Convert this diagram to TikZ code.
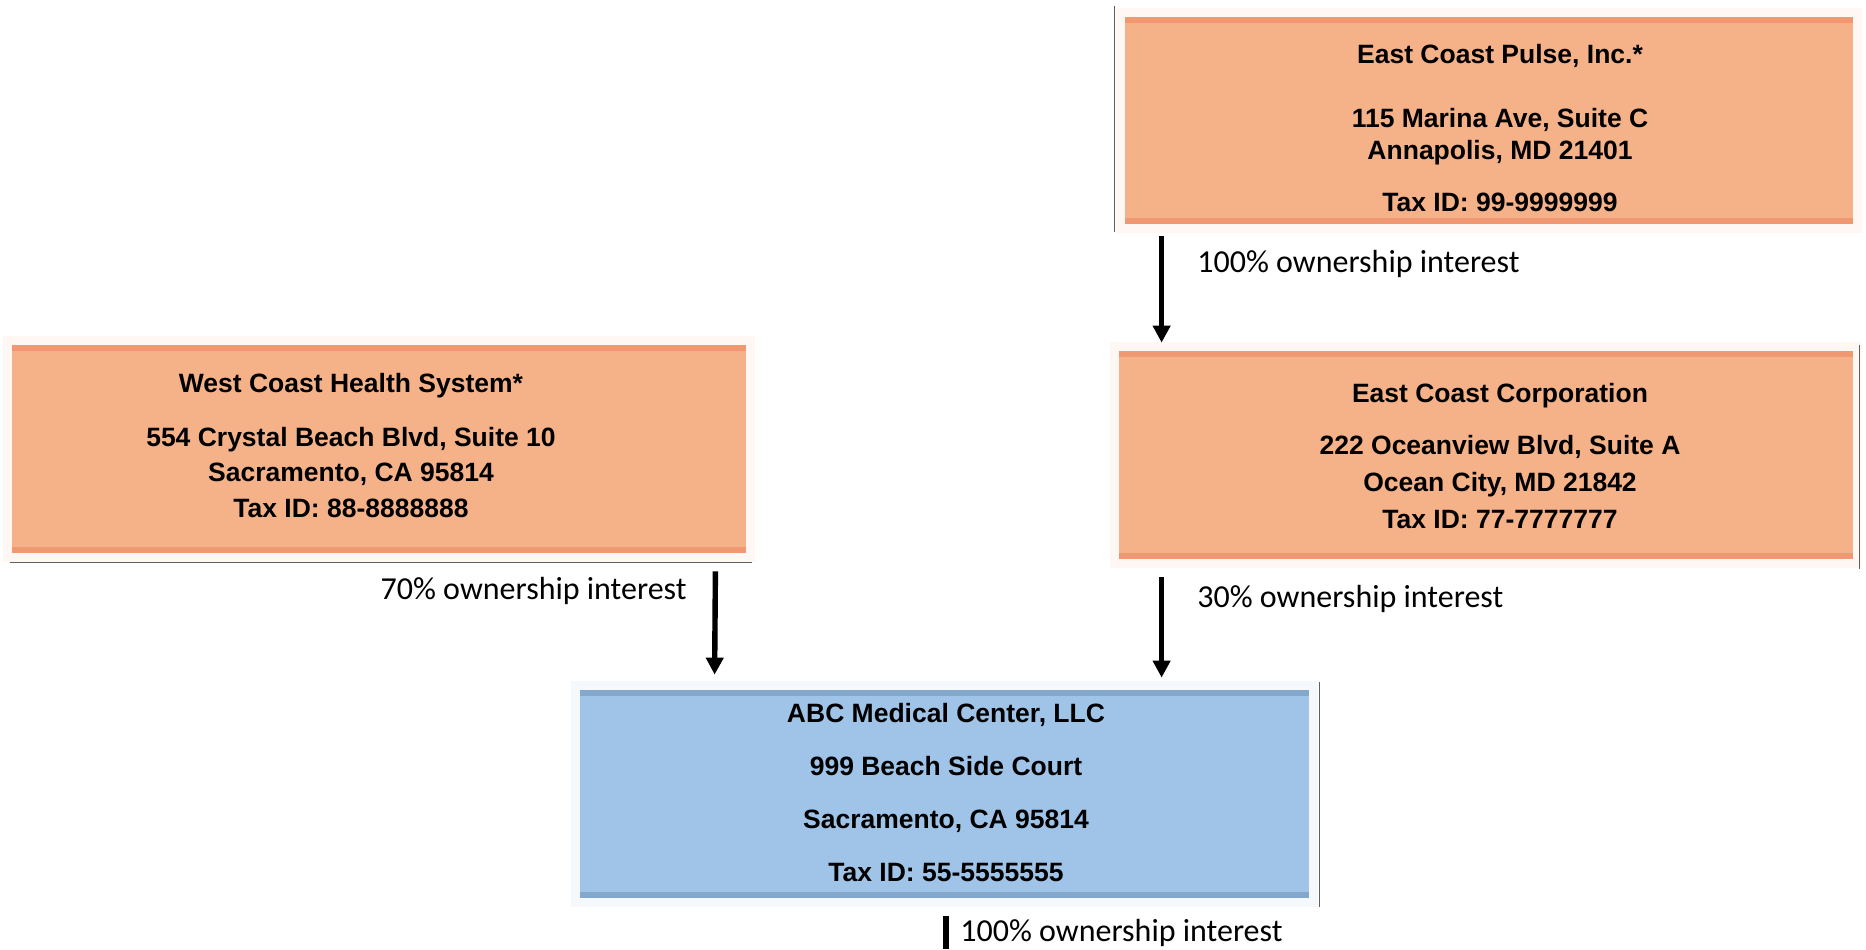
\documentclass[tikz,border=0pt]{standalone}
\usepackage{fontspec}
\setmainfont{Liberation Sans}
\newfontfamily\lblfont{Carlito}
\usetikzlibrary{arrows.meta,calc}
\definecolor{orEdge}{RGB}{240,152,114}
\definecolor{orMid}{RGB}{245,178,136}
\definecolor{blEdge}{RGB}{132,168,204}
\definecolor{blMid}{RGB}{160,196,232}
\definecolor{rulegrey}{RGB}{95,95,95}
\begin{document}
\begin{tikzpicture}[x=0.5pt,y=-0.5pt,
  orbox/.style={rectangle, inner sep=0pt, draw=none, fill=orMid,
    preaction={draw=orMid, opacity=0.10, line width=9pt},
    path picture={
      \fill[orEdge] (path picture bounding box.north west) rectangle ([yshift=-3pt]path picture bounding box.north east);
      \fill[orEdge] (path picture bounding box.south west) rectangle ([yshift=3pt]path picture bounding box.south east);}},
  blbox/.style={rectangle, inner sep=0pt, draw=none, fill=blMid,
    preaction={draw=blMid, opacity=0.10, line width=9pt},
    path picture={
      \fill[blEdge] (path picture bounding box.north west) rectangle ([yshift=-3pt]path picture bounding box.north east);
      \fill[blEdge] (path picture bounding box.south west) rectangle ([yshift=3pt]path picture bounding box.south east);}},
  boxtext/.style={align=center, inner sep=0pt, text=black},
  lbl/.style={inner sep=0pt, font=\lblfont\fontsize{16}{19}\selectfont},
  arr/.style={draw=black, line width=2.7pt, -{Triangle[length=8.5pt,width=8.5pt]}},
  thinrule/.style={draw=rulegrey, line width=0.8pt},
  bar/.style={draw=black, line width=2.8pt}]
\useasboundingbox (0,0) rectangle (1866,949);

% boxes
\node[orbox, minimum width=364pt, minimum height=103.5pt] (ecp) at (1489,120.5) {};
\node[orbox, minimum width=367pt, minimum height=104pt] (ecc) at (1486,455) {};
\node[orbox, minimum width=367pt, minimum height=104pt] (wchs) at (379,449) {};
\node[blbox, minimum width=364.5pt, minimum height=104pt] (abc) at (944.5,794) {};

% box texts
\node[boxtext, font=\bfseries\fontsize{13.25}{16}\selectfont] (ecpT) at (1500,128)
  {East Coast Pulse, Inc.*\\[16pt]115 Marina Ave, Suite C\\Annapolis, MD 21401\\[10pt]Tax ID: 99-9999999};
\node[boxtext, font=\bfseries\fontsize{13.25}{18.5}\selectfont] (eccT) at (1500,456)
  {East Coast Corporation\\[7.5pt]222 Oceanview Blvd, Suite A\\Ocean City, MD 21842\\Tax ID: 77-7777777};
\node[boxtext, font=\bfseries\fontsize{13.25}{17.75}\selectfont] (wchsT) at (351,445.5)
  {West Coast Health System*\\[9.25pt]554 Crystal Beach Blvd, Suite 10\\Sacramento, CA 95814\\Tax ID: 88-8888888};
\node[boxtext, font=\bfseries\fontsize{13.25}{26.5}\selectfont] (abcT) at (946,793)
  {ABC Medical Center, LLC\\999 Beach Side Court\\Sacramento, CA 95814\\Tax ID: 55-5555555};

% thin rules
\draw[thinrule] ($(ecp.north west)+(-10,-11)$) -- ($(ecp.south west)+(-10,8)$);
\draw[thinrule] ($(ecc.north east)+(6,-6)$) -- ($(ecc.south east)+(6,10)$);
\draw[thinrule] ($(wchs.south west)+(-2,9)$) -- ($(wchs.south east)+(6,9)$);
\draw[thinrule] ($(abc.north east)+(10,-8)$) -- ($(abc.south east)+(10,9)$);

% connectors
\draw[arr] ($(ecp.south west)+(37,12)$) -- ($(ecc.north west)+(43,-8)$);
\draw[arr] ($(wchs.south east)+(-31,18)$) -- ($(abc.north west)+(135,-15)$);
\draw[arr] ($(ecc.south west)+(43,18)$) -- ($(abc.north west)+(582,-12)$);
\coordinate (below) at (946,949);
\draw[bar] ($(abc.south)+(1.5,18)$) -- (below);

% labels
\node[lbl, anchor=west] (l1) at (1197,264) {100\% ownership interest};
\node[lbl, anchor=east] (l2) at (687,591) {70\% ownership interest};
\node[lbl, anchor=west] (l3) at (1197,599) {30\% ownership interest};
\node[lbl, anchor=west] (l4) at (960,933) {100\% ownership interest};
\end{tikzpicture}
\end{document}
